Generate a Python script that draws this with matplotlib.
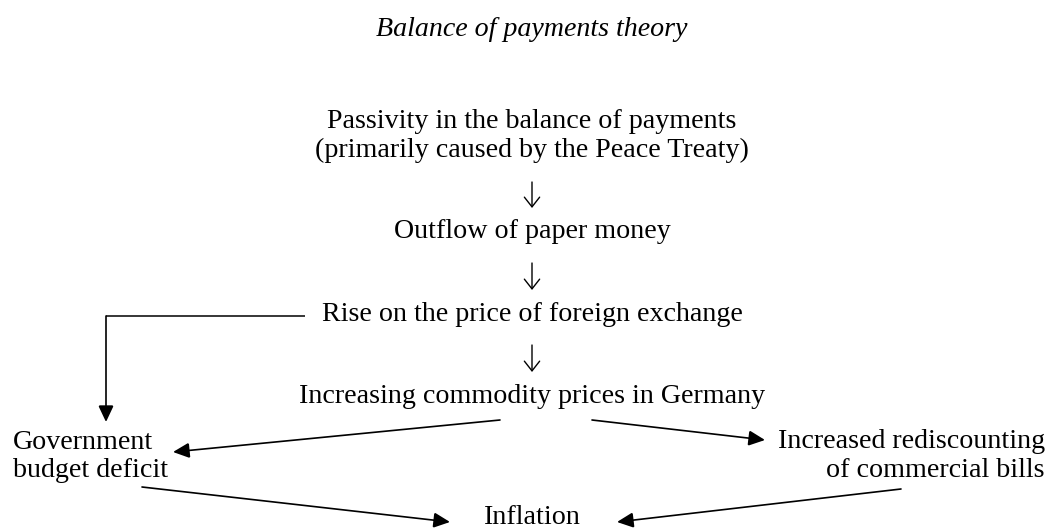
import matplotlib
matplotlib.use('Agg')
import matplotlib.pyplot as plt
from matplotlib.patches import FancyArrowPatch

# Text of the diagram
title = 'Balance of payments theory'
chain_labels = ['Passivity in the balance of payments\n(primarily caused by the Peace Treaty)',
                'Outflow of paper money',
                'Rise on the price of foreign exchange',
                'Increasing commodity prices in Germany']
left_label = 'Government\nbudget deficit'
right_label = 'Increased rediscounting\nof commercial bills'
final_label = 'Inflation'

### Layout (pixel coordinates, y down)
W, H = 1048, 529
cx = 532
fs = 20.2
chain_baselines = [128, 238, 321, 403]
down_arrows = [(182, 208), (263, 290), (345, 372)]

plt.rcParams['font.family'] = ['Liberation Serif', 'DejaVu Serif']

fig = plt.figure(figsize=(W / 100, H / 100), dpi=100)
ax = fig.add_axes([0, 0, 1, 1])
ax.set_xlim(0, W)
ax.set_ylim(H, 0)
ax.axis('off')

ax.text(cx, 36, title, ha='center', va='baseline', fontsize=fs, style='italic')

for lab, yb in zip(chain_labels, chain_baselines):
    for k, line in enumerate(lab.split('\n')):
        ax.text(cx, yb + 29 * k, line, ha='center', va='baseline', fontsize=fs)

for k, line in enumerate(left_label.split('\n')):
    ax.text(13, 449 + 28 * k, line, ha='left', va='baseline', fontsize=fs)
for k, line in enumerate(right_label.split('\n')):
    ax.text(1045, 448 + 29 * k, line, ha='right', va='baseline', fontsize=fs)
ax.text(cx, 524, final_label, ha='center', va='baseline', fontsize=fs)

def arrow(p0, p1, style='-|>,head_length=1.0,head_width=0.47', lw=1.2):
    a = FancyArrowPatch(p0, p1, arrowstyle=style,
                        mutation_scale=10, lw=lw, color='black',
                        shrinkA=0, shrinkB=0, joinstyle='miter')
    ax.add_patch(a)

# thin open arrows between the chain steps
for y0, y1 in down_arrows:
    arrow((cx, y0), (cx, y1), style='->,head_length=0.7,head_width=0.55', lw=1.0)

# bracket from "Rise" down to government deficit
ax.plot([305, 106], [316, 316], color='black', lw=1.1, solid_capstyle='butt')
arrow((106, 316), (106, 422))
arrow((500, 420), (173, 452))
arrow((592, 420), (765, 440))
arrow((142, 487), (450, 522))
arrow((901, 489), (617, 522))

fig.savefig('out.png', dpi=100, facecolor='white')
